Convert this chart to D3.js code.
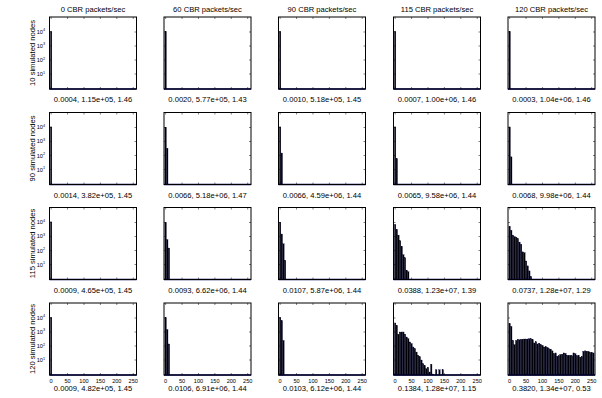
<!DOCTYPE html>
<html>
<head>
<meta charset="utf-8">
<script src="https://cdn.jsdelivr.net/npm/d3@7"></script>
<style>
  body { margin: 0; background: #fff; }
  text { font-family: "Liberation Sans", Arial, sans-serif; fill: #000; }
</style>
</head>
<body>
<div id="chart"></div>
<script>
// Data
var colLabels = ["0 CBR packets/sec", "60 CBR packets/sec", "90 CBR packets/sec", "115 CBR packets/sec", "120 CBR packets/sec"];
var rowLabels = ["10 simulated nodes", "90 simulated nodes", "115 simulated nodes", "120 simulated nodes"];
var xTicks = [0, 50, 100, 150, 200, 250];
var yTicks = [10, 100, 1000, 10000];
var binWidth = 5;   // histogram bin i is centred on i * binWidth

var stats10 = ["0.0004, 1.15e+05, 1.46", "0.0020, 5.77e+05, 1.43", "0.0010, 5.18e+05, 1.45", "0.0007, 1.00e+06, 1.46", "0.0003, 1.04e+06, 1.46"];
var stats90 = ["0.0014, 3.82e+05, 1.45", "0.0066, 5.18e+06, 1.47", "0.0066, 4.59e+06, 1.44", "0.0065, 9.58e+06, 1.44", "0.0068, 9.98e+06, 1.44"];
var stats115 = ["0.0009, 4.65e+05, 1.45", "0.0093, 6.62e+06, 1.44", "0.0107, 5.87e+06, 1.44", "0.0388, 1.23e+07, 1.39", "0.0737, 1.28e+07, 1.29"];
var stats120 = ["0.0009, 4.82e+05, 1.45", "0.0106, 6.91e+06, 1.44", "0.0103, 6.12e+06, 1.44", "0.1384, 1.28e+07, 1.15", "0.3820, 1.34e+07, 0.53"];

// counts per bin (0 = empty bin)
var counts10 = [
  [11000],
  [11000],
  [11000],
  [11000],
  [11000]
];
var counts90 = [
  [11000],
  [10500, 330],
  [11000, 150],
  [11000, 60],
  [11000, 80]
];
var counts115 = [
  [11000],
  [10000, 600, 150],
  [10500, 1500, 300, 20],
  [7200, 3200, 1260, 500, 200, 50, 30, 4, 3],
  [5250, 2800, 1260, 1000, 900, 720, 400, 280, 80, 70, 18, 8, 3.5, 1.4]
];
var counts120 = [
  [11000],
  [11000, 1500, 140],
  [11000, 6500, 250],
  [4400, 3000, 700, 1000, 1000, 1000, 700, 440, 330, 195, 150, 85, 65, 37, 22, 17, 10, 5.5, 4, 2.4,
   3, 1.4, 5, 1, 0, 2, 0, 2, 0, 2],
  [4000, 2500, 250, 125, 250, 280, 280, 300, 300, 316, 316, 316, 330, 330, 280, 165, 200, 140, 160, 125,
   112, 85, 90, 80, 63, 60, 45, 28, 32, 19, 20, 25, 26, 32, 30, 22, 20, 22, 20, 32,
   28, 20, 22, 16, 18, 42, 45, 40, 42, 35, 35, 32]
];

var statsRows = [stats10, stats90, stats115, stats120];
var countRows = [counts10, counts90, counts115, counts120];

// Layout
var svgWidth = 602, svgHeight = 398;
var panelW = 87, panelH = 72;
var colLeft = [49.5, 164, 278.5, 393.5, 508];
var rowTop = [17, 112.5, 207.5, 303];

var svg = d3.select("#chart").append("svg")
  .attr("width", svgWidth)
  .attr("height", svgHeight)
  .style("background", "#fff");

var xScale = d3.scaleLinear().domain([-5, 260]).range([0, panelW]);
var yScale = d3.scaleLog().domain([Math.pow(10, -0.07), Math.pow(10, 5.07)]).range([panelH, 0]);

// column titles
svg.selectAll(".colTitle")
  .data(colLabels)
  .enter().append("text")
  .attr("x", (d, i) => colLeft[i] + panelW / 2)
  .attr("y", 12)
  .attr("text-anchor", "middle")
  .attr("font-size", "7.6px")
  .text(d => d);

// row titles
svg.selectAll(".rowTitle")
  .data(rowLabels)
  .enter().append("text")
  .attr("transform", (d, i) => `translate(34.5, ${rowTop[i] + panelH / 2}) rotate(-90)`)
  .attr("text-anchor", "middle")
  .attr("font-size", "7.6px")
  .text(d => d);

rowTop.forEach(function(top, r) {
  colLeft.forEach(function(left, c) {
    var g = svg.append("g").attr("transform", `translate(${left}, ${top})`);
    var counts = countRows[r][c];
    var bins = counts.map((v, i) => ({ x: i * binWidth, v: v })).filter(d => d.v > 0);
    var barW = binWidth * 0.88;

    // bars
    g.selectAll("rect.bar")
      .data(bins)
      .enter().append("rect")
      .attr("class", "bar")
      .attr("x", d => xScale(d.x - barW / 2))
      .attr("width", xScale(barW) - xScale(0))
      .attr("y", d => yScale(d.v))
      .attr("height", d => panelH - yScale(d.v))
      .attr("fill", "#000005")
      .attr("stroke", "#00002e")
      .attr("stroke-width", 0.3);

    // navy baseline of the histogram
    g.append("line")
      .attr("x1", 0).attr("x2", panelW)
      .attr("y1", panelH).attr("y2", panelH)
      .attr("stroke", "#000066")
      .attr("stroke-width", 1.3);

    // inside ticks on all four sides
    var tl = 2;
    xTicks.forEach(function(t) {
      var x = xScale(t);
      g.append("line").attr("x1", x).attr("x2", x).attr("y1", 0).attr("y2", tl)
        .attr("stroke", "#000").attr("stroke-width", 0.5);
      g.append("line").attr("x1", x).attr("x2", x).attr("y1", panelH).attr("y2", panelH - tl)
        .attr("stroke", "#000").attr("stroke-width", 0.5);
    });
    yTicks.forEach(function(t) {
      var y = yScale(t);
      g.append("line").attr("x1", 0).attr("x2", tl).attr("y1", y).attr("y2", y)
        .attr("stroke", "#000").attr("stroke-width", 0.5);
      g.append("line").attr("x1", panelW).attr("x2", panelW - tl).attr("y1", y).attr("y2", y)
        .attr("stroke", "#000").attr("stroke-width", 0.5);
    });

    // box
    g.append("rect")
      .attr("width", panelW).attr("height", panelH)
      .attr("fill", "none")
      .attr("stroke", "#000")
      .attr("stroke-width", 1);

    // y tick labels on first column
    if (c === 0) {
      yTicks.forEach(function(t) {
        var txt = g.append("text")
          .attr("x", -4.5)
          .attr("y", yScale(t) + 2)
          .attr("text-anchor", "end")
          .attr("font-size", "5.6px");
        txt.append("tspan").text("10");
        txt.append("tspan").attr("dy", -2.5).attr("font-size", "3.8px").text(Math.round(Math.log10(t)));
      });
    }

    // x tick labels on the bottom row
    if (r === rowTop.length - 1) {
      g.selectAll(".xt")
        .data(xTicks)
        .enter().append("text")
        .attr("x", d => xScale(d))
        .attr("y", panelH + 7.5)
        .attr("text-anchor", "middle")
        .attr("font-size", "5.6px")
        .text(d => d);
    }

    // stats label
    g.append("text")
      .attr("x", panelW / 2)
      .attr("y", r === rowTop.length - 1 ? panelH + 16 : panelH + 13)
      .attr("text-anchor", "middle")
      .attr("font-size", "7.6px")
      .text(statsRows[r][c]);
  });
});
</script>
</body>
</html>
